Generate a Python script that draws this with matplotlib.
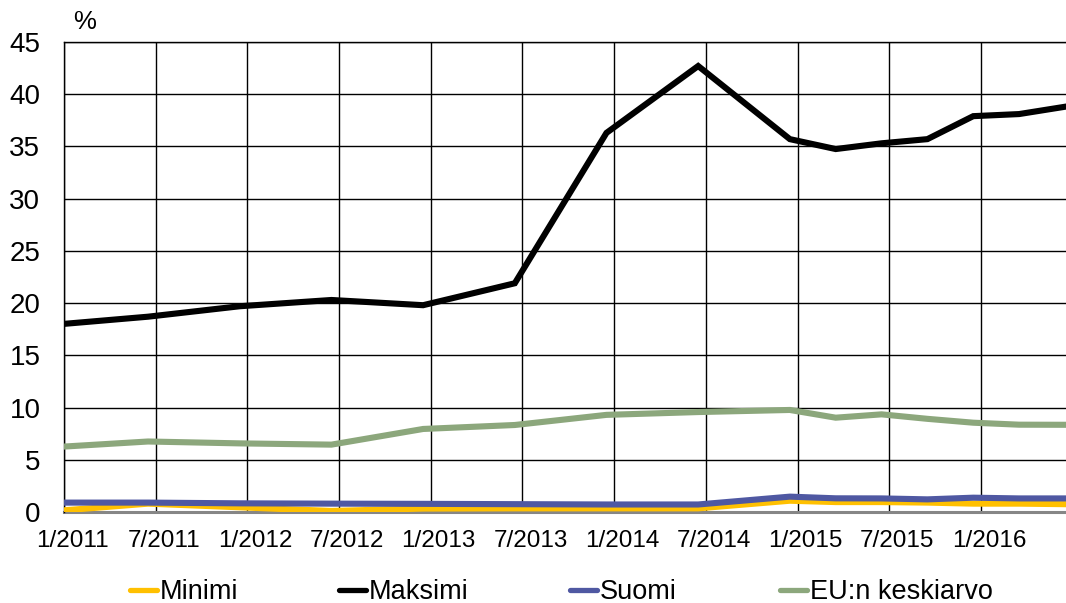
import matplotlib
matplotlib.use("Agg")
import matplotlib.pyplot as plt
import matplotlib.transforms as mtransforms
from matplotlib.lines import Line2D

plt.rcParams['font.family'] = ['Liberation Sans', 'DejaVu Sans']

# ---- data ----
dates = ["1/2011", "7/2011", "1/2012", "7/2012", "1/2013", "7/2013", "1/2014",
         "7/2014", "1/2015", "4/2015", "7/2015", "10/2015", "1/2016", "4/2016",
         "7/2016"]
minimi = [0.1, 0.8, 0.45, 0.1, 0.33, 0.35, 0.35, 0.35, 1.08, 0.95, 0.95, 0.9,
          0.8, 0.8, 0.75]
maksimi = [17.95, 18.7, 19.7, 20.3, 19.8, 21.9, 36.3, 42.7, 35.7, 34.75, 35.3,
           35.7, 37.9, 38.1, 38.8]
suomi = [0.9, 0.9, 0.83, 0.8, 0.78, 0.75, 0.72, 0.72, 1.47, 1.31, 1.3, 1.21,
         1.37, 1.3, 1.3]
eu_keskiarvo = [6.22, 6.75, 6.57, 6.45, 7.95, 8.33, 9.3, 9.57, 9.77, 9.03,
                9.35, 8.92, 8.55, 8.36, 8.35]
tick_labels = ["1/2011", "7/2011", "1/2012", "7/2012", "1/2013", "7/2013",
               "1/2014", "7/2014", "1/2015", "7/2015", "1/2016"]
series_names = ["Minimi", "Maksimi", "Suomi", "EU:n keskiarvo"]
y_ticks = [0, 5, 10, 15, 20, 25, 30, 35, 40, 45]


def month_index(s):
    m, y = s.split("/")
    return (int(y) - 2011) * 12 + (int(m) - 1)


x = [month_index(d) for d in dates]
tick_pos = [month_index(t) + 0.5 for t in tick_labels]

W, H = 1066, 603
fig = plt.figure(figsize=(W / 100, H / 100), dpi=100)
ax = fig.add_axes([64 / W, 1 - 512 / H, (W - 64) / W, (512 - 42) / H])

colors = ["#FFC000", "#000000", "#4F58A2", "#8CA77C"]
series = [minimi, maksimi, suomi, eu_keskiarvo]
for vals, c, name in zip(series, colors, series_names):
    ax.plot(x, vals, color=c, lw=4.4, label=name, solid_joinstyle='miter',
            zorder=3)

ax.set_xlim(0.5, 66.07)
ax.set_ylim(0, 45)
ax.set_yticks(y_ticks)
ax.set_xticks(tick_pos)
ax.set_xticklabels(tick_labels)
ax.grid(True, color="#000000", lw=1.0, zorder=1)
ax.set_axisbelow(True)

ax.spines["right"].set_visible(False)
ax.spines["top"].set_color("#000000")
ax.spines["top"].set_linewidth(1.0)
ax.spines["left"].set_color("#000000")
ax.spines["left"].set_linewidth(1.0)
ax.spines["bottom"].set_color("#868686")
ax.spines["bottom"].set_linewidth(2.2)
ax.spines["bottom"].set_zorder(2)

ax.tick_params(axis="both", length=0)
ax.tick_params(axis="y", labelsize=20, pad=17)
ax.tick_params(axis="x", labelsize=17.5, pad=13)

offset = mtransforms.ScaledTranslation(8 / 100, 0, fig.dpi_scale_trans)
for lbl in ax.get_xticklabels():
    lbl.set_transform(lbl.get_transform() + offset)

fig.text(73 / W, 1 - 22 / H, "%", fontsize=18.5, va="center", ha="left")

# legend entries (Excel-like spacing)
legend_x = [127, 336, 567, 777]
for name, c, lx in zip(series_names, colors, legend_x):
    h = Line2D([], [], color=c, lw=3.8, solid_capstyle="round")
    leg = fig.legend([h], [name], loc="center left",
                     bbox_to_anchor=((lx + 2.5) / W, 1 - 592 / H),
                     frameon=False, fontsize=19.5, handlelength=1.03,
                     handletextpad=0.1, borderpad=0, borderaxespad=0)

fig.savefig("out.png", dpi=100)
